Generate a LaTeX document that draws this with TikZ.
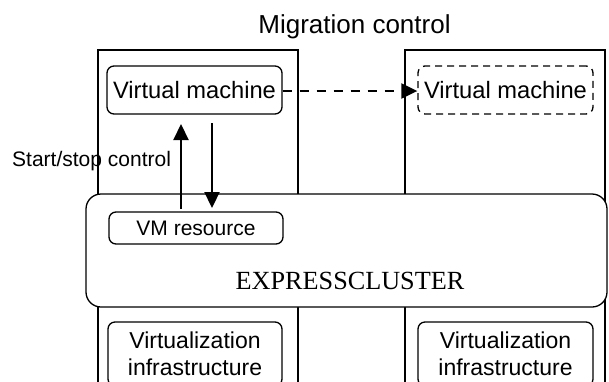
\documentclass[tikz,border=0pt]{standalone}
\usepackage{fontspec}
\setmainfont{Liberation Sans}
\newfontfamily\serifface{Liberation Serif}
\usetikzlibrary{arrows.meta}
\tikzset{
  srv/.style={line width=1.3pt},
  rbox/.style={draw, line width=1.3pt, rounded corners=7pt, inner sep=0pt, align=center},
  vmtext/.style={font=\fontsize{23.7}{27}\selectfont},
  smalltext/.style={font=\fontsize{21}{25}\selectfont},
  arr/.style={line width=2.2pt, -{Triangle[length=16pt,width=15pt]}},
  darr/.style={line width=2.2pt, dash pattern=on 9pt off 8pt, -{Triangle[length=16pt,width=15pt]}}
}
\begin{document}
\begin{tikzpicture}[x=1pt,y=-1pt]
\useasboundingbox (0,0) rectangle (609,381);
\clip (0,0) rectangle (609,381);
% server frames
\draw[srv] (98,390) -- (98,50) -- (298,50) -- (298,390);
\draw[srv] (405,390) -- (405,50) -- (605,50) -- (605,390);
% title
\node[anchor=base, inner sep=0pt, font=\fontsize{26}{30}\selectfont] (title) at (354.5,33) {Migration control};
% virtual machines
\node[rbox, vmtext, minimum width=175pt, minimum height=48pt] (vm1) at (194.5,90) {Virtual machine};
\node[rbox, vmtext, dashed, dash pattern=on 7pt off 5pt, minimum width=175pt, minimum height=48pt] (vm2) at (505.5,90) {Virtual machine};
% cluster
\node[draw, fill=white, line width=1.3pt, rounded corners=15pt, minimum width=521pt, minimum height=113pt, inner sep=0pt] (cluster) at (346.5,250.5) {};
\node[anchor=base, inner sep=0pt, font=\serifface\fontsize{26.2}{30}\selectfont] (ectext) at (350,289) {EXPRESSCLUSTER};
% VM resource
\node[rbox, smalltext, minimum width=174pt, minimum height=32pt] (vmres) at (196,228) {VM resource};
% virtualization infrastructure
\node[rbox, font=\fontsize{23}{27}\selectfont, minimum width=174pt, minimum height=64pt] (vi1) at (195,354) {Virtualization\\infrastructure};
\node[rbox, font=\fontsize{23}{27}\selectfont, minimum width=175pt, minimum height=64pt] (vi2) at (505.5,354) {Virtualization\\infrastructure};
% label
\node[anchor=base west, inner sep=0pt, smalltext] (ssc) at (12,166) {Start/stop control};
% arrows
\coordinate (upstart) at (181,209);
\coordinate (upend) at (181,124);
\coordinate (dnstart) at (212,123);
\coordinate (dnend) at (212,208);
\draw[arr] (upstart) -- (upend);
\draw[arr] (dnstart) -- (dnend);
\draw[darr] (vm1.east |- 0,91) -- (vm2.west |- 0,91);
\end{tikzpicture}
\end{document}
